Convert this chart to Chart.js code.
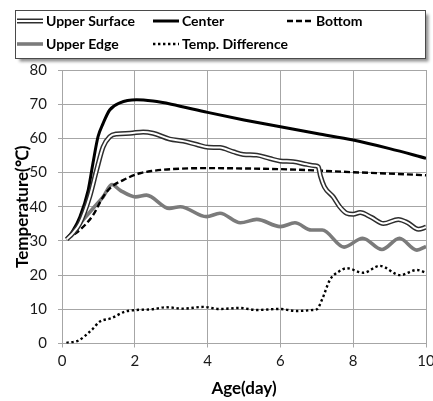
<!DOCTYPE html>
<html>
<head>
<meta charset="utf-8">
<script src="https://cdn.jsdelivr.net/npm/chart.js@4"></script>
<style>
  html, body { margin: 0; padding: 0; background: #fff; }
  canvas { display: block; }
</style>
</head>
<body>
<canvas id="tempChart" width="433" height="401"></canvas>
<script>
// temperature history, age in days
const xTicks = [0, 2, 4, 6, 8, 10];
const yTicks = [0, 10, 20, 30, 40, 50, 60, 70, 80];

const surfaceAge  = [0.13, 0.3, 0.49, 0.76, 0.95, 1.13, 1.31, 1.5, 1.87, 2.23, 2.5, 2.96, 3.33, 3.7, 4.02, 4.34, 4.7, 4.98, 5.35, 5.71, 5.99, 6.35, 6.72, 6.95, 7.04, 7.1, 7.21, 7.45, 7.63, 7.82, 8.0, 8.19, 8.5, 8.83, 9.24, 9.5, 9.79, 10];
const surfaceTemp = [30.5, 32.3, 35.1, 42.9, 50.7, 57.5, 60.5, 61.3, 61.5, 61.9, 61.5, 59.8, 59.2, 58.2, 57.4, 57.3, 56.1, 55.3, 55.1, 54.1, 53.4, 53.2, 52.4, 52, 51.7, 49, 45.8, 42.9, 40, 38.1, 37.8, 38.3, 36.9, 35.1, 36.3, 35.3, 33.4, 34];

const centerAge  = [0.13, 0.3, 0.49, 0.72, 0.85, 0.99, 1.13, 1.31, 1.59, 2.05, 2.5, 3, 4, 5, 6, 7, 8, 9, 10];
const centerTemp = [30.5, 33, 37, 44.9, 52.7, 60.5, 64.4, 68.3, 70.4, 71.3, 70.9, 70, 67.6, 65.4, 63.4, 61.4, 59.5, 57, 54.2];

const bottomAge  = [0.13, 0.49, 0.85, 1.13, 1.36, 1.68, 2.14, 2.5, 3, 4, 5, 6, 7, 8, 9, 10];
const bottomTemp = [30.5, 33.2, 37.5, 42.9, 45.8, 47.8, 49.8, 50.5, 51, 51.3, 51.2, 51, 50.6, 50.1, 49.7, 49.2];

const edgeAge  = [0.13, 0.49, 0.85, 1.13, 1.37, 1.6, 2.02, 2.32, 2.95, 3.25, 3.97, 4.34, 4.9, 5.35, 6.0, 6.4, 6.85, 7.15, 7.75, 8.26, 8.79, 9.27, 9.75, 10];
const edgeTemp = [30.5, 35, 39.5, 42.9, 46.5, 44.8, 42.9, 43.4, 39.5, 40, 37.1, 38.1, 35.3, 36.3, 34.2, 35.3, 33.2, 33.2, 28.2, 30.8, 27.5, 30.8, 27.3, 28.4];

const diffAge  = [0.12, 0.44, 0.81, 1.04, 1.36, 1.72, 2.05, 2.46, 2.87, 3.33, 3.88, 4.34, 4.89, 5.35, 5.99, 6.45, 6.9, 7.0, 7.15, 7.36, 7.6, 7.82, 8.28, 8.73, 9.29, 9.75, 10];
const diffTemp = [0.2, 0.8, 3.9, 6.4, 7.4, 9.3, 9.8, 10, 10.6, 10.2, 10.7, 10.1, 10.4, 9.8, 10.1, 9.5, 9.8, 10, 13, 18.6, 21, 22, 20.7, 22.7, 20, 21.5, 20.7];

const FONT = 'Lato, "Liberation Sans", sans-serif';
const GRID = '#a6a6a6';

const toPoints = (xs, ys) => xs.map((x, i) => ({ x, y: ys[i] }));

// line looks shared by the plot and the legend box
const styles = {
  surface: { kind: 'double', color: '#2e2e2e', width: 5, inner: 2 },
  center:  { kind: 'solid', color: '#000', width: 3 },
  bottom:  { kind: 'solid', color: '#000', width: 2.4, dash: [6, 3] },
  edge:    { kind: 'solid', color: '#7b7b7b', width: 3.6 },
  diff:    { kind: 'solid', color: '#000', width: 2.4, dash: [2.4, 2.6] }
};

const datasets = [
  // white core of the double line sits on top of its dark casing
  { label: 'Upper Surface', data: toPoints(surfaceAge, surfaceTemp), borderColor: '#fff',
    borderWidth: styles.surface.inner, order: 0, legendHide: true },
  { label: 'Upper Surface', data: toPoints(surfaceAge, surfaceTemp), borderColor: styles.surface.color,
    borderWidth: styles.surface.width, order: 1, key: 'surface' },
  { label: 'Center', data: toPoints(centerAge, centerTemp), borderColor: styles.center.color,
    borderWidth: styles.center.width, order: 2, key: 'center' },
  { label: 'Bottom', data: toPoints(bottomAge, bottomTemp), borderColor: styles.bottom.color,
    borderWidth: styles.bottom.width, borderDash: styles.bottom.dash, order: 3, key: 'bottom' },
  { label: 'Upper Edge', data: toPoints(edgeAge, edgeTemp), borderColor: styles.edge.color,
    borderWidth: styles.edge.width, order: 4, key: 'edge' },
  { label: 'Temp. Difference', data: toPoints(diffAge, diffTemp), borderColor: styles.diff.color,
    borderWidth: styles.diff.width, borderDash: styles.diff.dash, order: 5, key: 'diff' }
];

function strokeSample(ctx, st, x0, x1, y) {
  ctx.save();
  ctx.lineCap = 'butt';
  ctx.beginPath();
  ctx.moveTo(x0, y);
  ctx.lineTo(x1, y);
  ctx.strokeStyle = st.color;
  ctx.lineWidth = st.width;
  ctx.setLineDash(st.dash || []);
  ctx.stroke();
  if (st.kind === 'double') {
    ctx.strokeStyle = '#fff';
    ctx.lineWidth = st.inner;
    ctx.stroke();
  }
  ctx.restore();
}

// boxed legend laid out on a fixed grid, with a drop shadow
const boxLegend = {
  id: 'boxLegend',
  afterDraw(chart) {
    const ctx = chart.ctx;
    const cols = [17, 153, 287];
    const rows = [21, 44];
    const slots = { surface: [0, 0], center: [1, 0], bottom: [2, 0], edge: [0, 1], diff: [1, 1] };

    ctx.save();
    ctx.shadowColor = 'rgba(0,0,0,0.45)';
    ctx.shadowOffsetX = 3;
    ctx.shadowOffsetY = 3;
    ctx.shadowBlur = 3;
    ctx.fillStyle = '#fff';
    ctx.fillRect(15.5, 10.5, 410, 48);
    ctx.restore();

    ctx.save();
    ctx.strokeStyle = '#4a4a4a';
    ctx.lineWidth = 1;
    ctx.strokeRect(15.5, 10.5, 410, 48);

    ctx.font = 'bold 14px ' + FONT;
    ctx.fillStyle = '#000';
    ctx.textBaseline = 'middle';
    chart.data.datasets.forEach(ds => {
      if (ds.legendHide) return;
      const [c, r] = slots[ds.key];
      const x = cols[c], y = rows[r];
      strokeSample(ctx, styles[ds.key], x, x + 26, y);
      ctx.fillText(ds.label, x + 29, y + 0.5);
    });
    ctx.restore();
  }
};

new Chart(document.getElementById('tempChart'), {
  type: 'line',
  data: { datasets },
  options: {
    responsive: false,
    animation: false,
    layout: { padding: { top: 70, right: 7, left: 0, bottom: 0 } },
    elements: {
      point: { radius: 0 },
      line: { cubicInterpolationMode: 'monotone', fill: false, borderCapStyle: 'butt' }
    },
    plugins: { legend: { display: false }, tooltip: { enabled: false } },
    scales: {
      x: {
        type: 'linear',
        min: xTicks[0],
        max: xTicks[xTicks.length - 1],
        afterBuildTicks: s => { s.ticks = xTicks.map(v => ({ value: v })); },
        afterFit: s => { s.height = 57.5; s.paddingLeft = 0; s.paddingRight = 0; },
        grid: { color: GRID, tickColor: GRID, tickLength: 4 },
        border: { color: GRID },
        ticks: { color: '#1a1a1a', padding: 5, font: { family: FONT, size: 15 } },
        title: { display: true, text: 'Age(day)', color: '#000',
                 font: { family: FONT, size: 17, weight: 'bold' }, padding: { top: 0, bottom: 2 } }
      },
      y: {
        min: yTicks[0],
        max: yTicks[yTicks.length - 1],
        afterBuildTicks: s => { s.ticks = yTicks.map(v => ({ value: v })); },
        afterFit: s => { s.width = 62; },
        grid: { color: GRID, tickColor: GRID, tickLength: 4 },
        border: { color: GRID },
        ticks: { color: '#1a1a1a', padding: 11, font: { family: FONT, size: 15 } },
        title: { display: true, text: 'Temperature(℃)', color: '#000',
                 font: { family: FONT, size: 17, weight: 'bold' }, padding: { top: 12, bottom: 0 } }
      }
    }
  },
  plugins: [boxLegend]
});
</script>
</body>
</html>
